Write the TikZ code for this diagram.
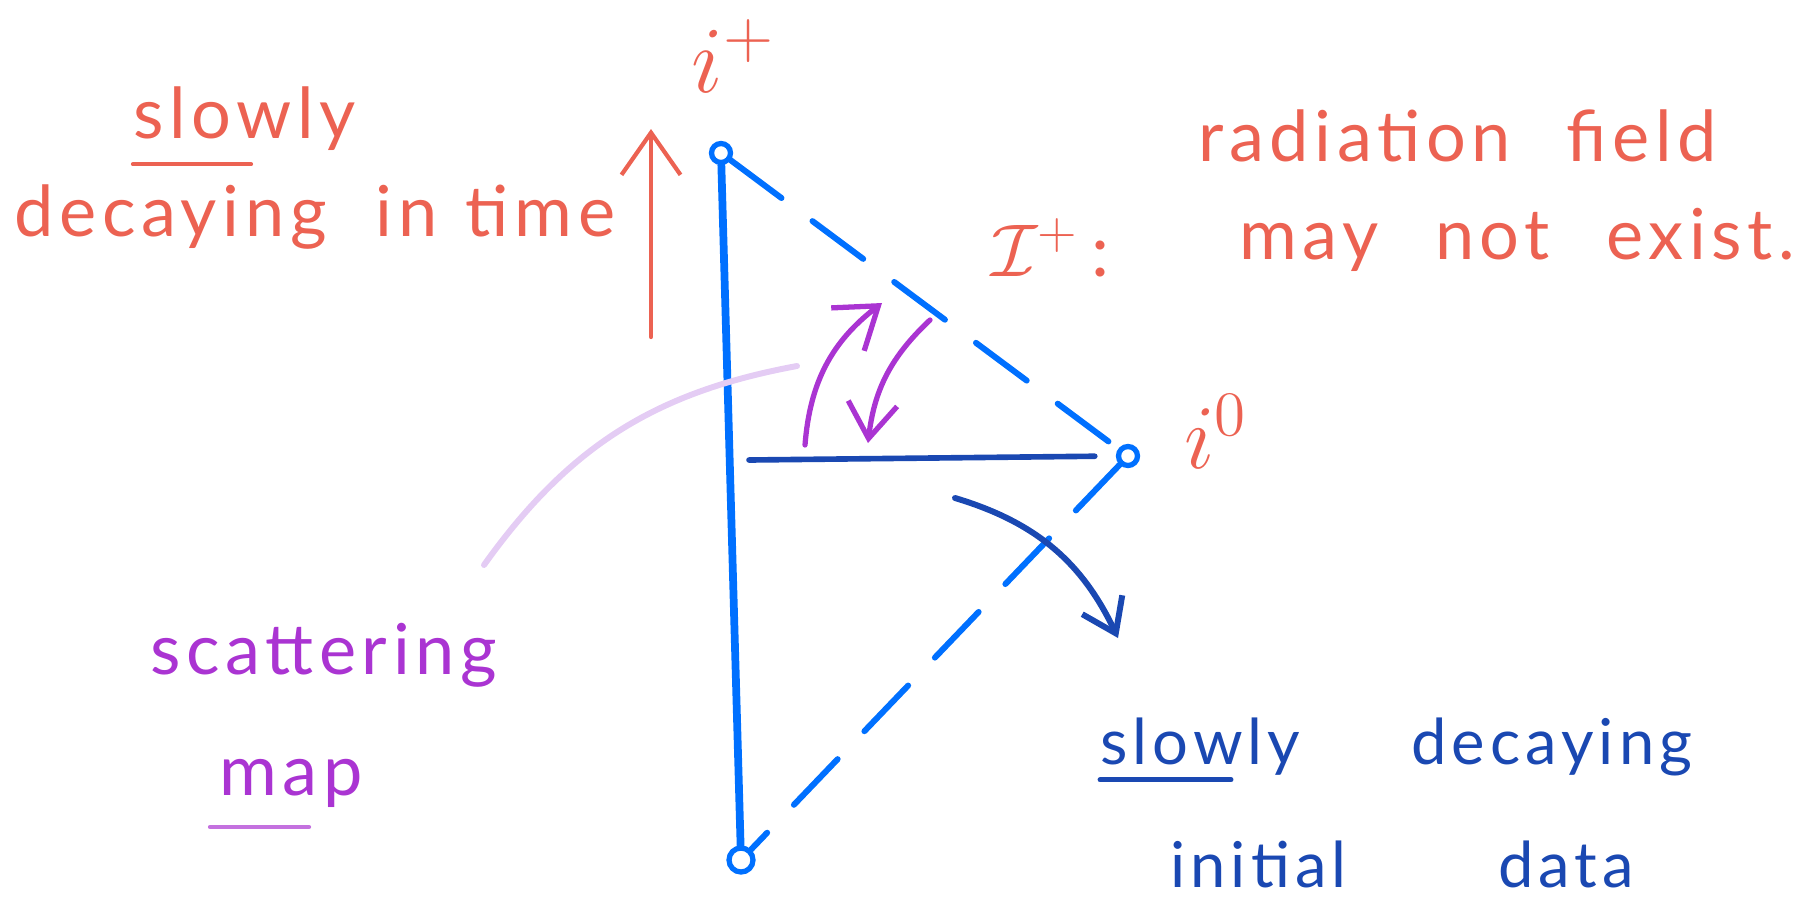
\documentclass[tikz,border=0pt]{standalone}
\usepackage{fontspec}
\setmainfont{Lato}
\newfontfamily\handfont[LetterSpace=8]{Lato}
\usetikzlibrary{arrows.meta}

\definecolor{PenRed}{RGB}{236,98,82}
\definecolor{PenBlue}{RGB}{0,112,255}
\definecolor{PenNavy}{RGB}{26,72,178}
\definecolor{PenPurple}{RGB}{170,52,210}
\definecolor{PenLilac}{RGB}{228,204,244}

\begin{document}
\begin{tikzpicture}[x=0.02cm,y=-0.02cm,
  point/.style={circle,draw=PenBlue,line width=3pt,inner sep=0pt,minimum size=0.36cm},
  words/.style={anchor=base west,inner sep=0pt,font=\handfont\fontsize{40}{46}\selectfont},
  bluewords/.style={words,text=PenNavy,font=\handfont\fontsize{36}{42}\selectfont},
  mathlab/.style={text=PenRed,inner sep=0pt,font=\fontsize{20}{24}\selectfont,scale=#1},
  pen/.style={line width=#1,line cap=round,line join=round},
  pen/.default=2pt,
  barb/.style={-{Straight Barb[length=#1,width=1.4*#1]}},
  barb/.default=16pt]
  \useasboundingbox (0,0) rectangle (1807,904);

  % the three corners of the diagram
  \foreach \name/\pos/\size in {iplus/{(721,153)}/0.38cm,izero/{(1128,456)}/0.38cm,iminus/{(741,860)}/0.48cm}
    \node[point,minimum size=\size] (\name) at \pos {};
  \node[mathlab=2.6] (iplusLab) at (734,56) {$i^+$};
  \node[mathlab=2.5] (izeroLab) at (1216,432) {$i^0$};

  \draw[PenBlue,pen=4.4pt] (iplus) -- (iminus);
  \draw[PenBlue,pen=3.4pt,dash pattern=on 36pt off 22pt] (iplus) -- (izero);
  \draw[PenBlue,pen=3.4pt,dash pattern=on 36pt off 22pt] (izero) -- (iminus);
  \coordinate (sliceL) at (749,460);
  \draw[PenNavy,pen=3.2pt,shorten >=12pt] (sliceL) -- (izero.west);

  % red labels on the left
  \node[words,text=PenRed] (slowTop) at (133,138) {slowly};
  \draw[PenRed,pen=2.4pt] ([yshift=-15pt]slowTop.base west) -- ++(118,0);
  \node[words,text=PenRed] (decayTime) at (14,236) {decaying\hspace{0.7em}in\hspace{0.4em}time};
  \coordinate (timeTail) at (651,337);
  \coordinate (timeHead) at (651,129);
  \draw[PenRed,pen=2.4pt,barb=24pt] (timeTail) -- (timeHead);

  % red labels on the right
  \node[words,text=PenRed] (radField) at (1198,161) {radiation\hspace{0.8em}field};
  \node[mathlab=2.05,anchor=base west] (scriI) at (991,276) {$\mathcal{I}^+$\,:};
  \node[words,text=PenRed] (notExist) at (1239,259) {may\hspace{0.8em}not\hspace{0.8em}exist.};

  % scattering map
  \node[words,text=PenPurple] (scatter) at (150,674) {scattering};
  \node[words,text=PenPurple] (mapLab) at (219,795) {map};
  \draw[PenPurple!70,pen=2.4pt] (210,827) -- (309,827);
  \coordinate (lilacA) at (484,565);
  \coordinate (lilacB) at (797,366);
  \draw[PenLilac,pen=3.4pt] (lilacA) to[bend left=22] (lilacB);
  \coordinate (upA) at (805,445);
  \coordinate (upB) at (882,303);
  \draw[PenPurple,pen=3pt,barb=22pt] (upA) to[bend left=24] (upB);
  \coordinate (downA) at (930,320);
  \coordinate (downB) at (868,443);
  \draw[PenPurple,pen=3pt,barb=20pt] (downA) to[bend right=20] (downB);

  % initial data
  \coordinate (dataA) at (955,498);
  \coordinate (dataB) at (1118,638);
  \draw[PenNavy,pen=3.4pt,barb=18pt] (dataA) to[bend left=24] (dataB);
  \node[bluewords] (slowData) at (1100,764) {slowly\hspace{1.75em}decaying};
  \draw[PenNavy,pen=2.8pt] ([yshift=-9pt]slowData.base west) -- ++(131,0);
  \node[bluewords] (initData) at (1170,887) {initial\hspace{2.4em}data};
\end{tikzpicture}
\end{document}
